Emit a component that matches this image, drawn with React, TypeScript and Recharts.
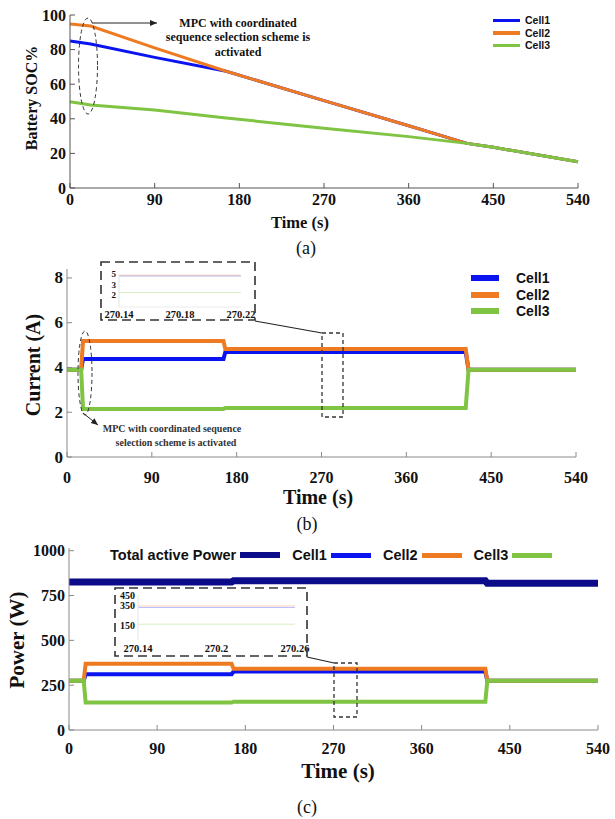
import React from 'react';
import { LineChart, Line, XAxis, YAxis, Legend } from 'recharts';

const SERIF = '"Liberation Serif", "Times New Roman", serif';
const SANS = '"Liberation Sans", Arial, sans-serif';

const BLUE = '#0a14f0';
const ORANGE = '#ee7b22';
const GREEN = '#7fc443';
const NAVY = '#0c0c8a';

// shared x axis
const timeTicks = [0, 90, 180, 270, 360, 450, 540];

// (a) battery SOC %
const socTime = [0, 22, 90, 166, 270, 360, 422, 450, 540];
const socCell1 = [85, 83.2, 75.5, 67.5, 50.5, 36, 25.8, 23.5, 15.2];
const socCell2 = [94.8, 93.6, 81, 67.5, 50.5, 36, 25.8, 23.5, 15.2];
const socCell3 = [49.9, 48, 45.1, 40.5, 34.5, 29.7, 25.8, 23.5, 15.2];
const socTicks = [0, 20, 40, 60, 80, 100];

// (b) current (A)
const currentTime = [0, 15, 17, 166, 168, 423, 426, 540];
const currentCell1 = [3.9, 3.9, 4.38, 4.38, 4.69, 4.69, 3.9, 3.9];
const currentCell2 = [3.9, 3.9, 5.18, 5.18, 4.82, 4.82, 3.9, 3.9];
const currentCell3 = [3.9, 3.9, 2.15, 2.15, 2.19, 2.19, 3.9, 3.9];
const currentTicks = [0, 2, 4, 6, 8];

// (b) zoomed inset
const zoomCurrentTime = [270.14, 270.22];
const zoomCurrentCell1 = [4.69, 4.69];
const zoomCurrentCell2 = [4.82, 4.82];
const zoomCurrentCell3 = [2.19, 2.19];
const zoomCurrentTicksX = [270.14, 270.18, 270.22];
const zoomCurrentTicksY = [2, 3, 5];

// (c) power (W)
const powerTime = [0, 15, 17, 166, 168, 425, 427, 540];
const powerTotal = [825, 825, 825, 825, 832, 832, 818, 818];
const powerCell1 = [274, 274, 311, 311, 326, 326, 274, 274];
const powerCell2 = [274, 274, 369, 369, 341, 341, 274, 274];
const powerCell3 = [274, 274, 153, 153, 158, 158, 274, 274];
const powerTicks = [0, 250, 500, 750, 1000];
const powerLegendOrder = ['tot', 'c1', 'c2', 'c3'];

// (c) zoomed inset
const zoomPowerTime = [270.14, 270.26];
const zoomPowerCell1 = [326, 326];
const zoomPowerCell2 = [341, 341];
const zoomPowerCell3 = [158, 158];
const zoomPowerTicksX = [270.14, 270.2, 270.26];
const zoomPowerTicksY = [150, 350, 450];

const rows = (time: number[], series: Record<string, number[]>) =>
  time.map((t, i) => {
    const r: any = { t };
    Object.keys(series).forEach((k) => (r[k] = series[k][i]));
    return r;
  });

const socData = rows(socTime, { c1: socCell1, c2: socCell2, c3: socCell3 });
const currentData = rows(currentTime, { c1: currentCell1, c2: currentCell2, c3: currentCell3 });
const zoomCurrentData = rows(zoomCurrentTime, { c1: zoomCurrentCell1, c2: zoomCurrentCell2, c3: zoomCurrentCell3 });
const powerData = rows(powerTime, { tot: powerTotal, c1: powerCell1, c2: powerCell2, c3: powerCell3 });
const zoomPowerData = rows(zoomPowerTime, { c1: zoomPowerCell1, c2: zoomPowerCell2, c3: zoomPowerCell3 });

// ticks drawn inward, label outside
const XTick = ({ x, y, payload, fs, dy, stroke, mark = 5 }: any) => (
  <g>
    {mark > 0 && <line x1={x} x2={x} y1={y} y2={y - mark} stroke={stroke} />}
    <text x={x} y={y + dy} textAnchor="middle" dominantBaseline="central"
      fontFamily={SERIF} fontWeight="bold" fontSize={fs} fill="#111">{payload.value}</text>
  </g>
);

const YTick = ({ x, y, payload, fs, gap, stroke, mark = 5, nudge }: any) => (
  <g>
    {mark > 0 && <line x1={x} x2={x + mark} y1={y} y2={y} stroke={stroke} />}
    <text x={x - gap} y={y + (nudge ? nudge[payload.value] || 0 : 0)} textAnchor="end" dominantBaseline="central"
      fontFamily={SERIF} fontWeight="bold" fontSize={fs} fill="#111">{payload.value}</text>
  </g>
);

const StackLegend = ({ payload, swatch, thick, fs, rowH, gap }: any) => (
  <div>
    {(payload || []).map((p: any) => (
      <div key={p.value} style={{ display: 'flex', alignItems: 'center', height: rowH }}>
        <span style={{ width: swatch, height: thick, background: p.color, marginRight: gap, display: 'inline-block' }} />
        <span style={{ fontFamily: SANS, fontWeight: 'bold', fontSize: fs, color: '#111' }}>{p.value}</span>
      </div>
    ))}
  </div>
);

const RowLegend = ({ payload }: any) => (
  <div style={{ display: 'flex', alignItems: 'center', height: 16 }}>
    {(payload || []).map((p: any, i: number) => (
      <div key={p.value} style={{ display: 'flex', alignItems: 'center', marginRight: 12 }}>
        <span style={{ fontFamily: SANS, fontWeight: 'bold', fontSize: 14.5, color: '#111', marginRight: 4 }}>{p.value}</span>
        <span style={{ width: 40, height: i === 0 ? 6 : 5, background: p.color, display: 'inline-block' }} />
      </div>
    ))}
  </div>
);

export default function App() {
  const gray = '#8a8a8a';
  const dark = '#555';
  const dash = { fill: 'none', stroke: '#333', strokeWidth: 1.6, strokeDasharray: '9 5' };
  const dashSmall = { fill: 'none', stroke: '#333', strokeWidth: 1.3, strokeDasharray: '4 3' };
  const title = { fontFamily: SERIF, fontWeight: 'bold' as const, fill: '#111' };
  const caption = { fontFamily: SERIF, fontSize: 18, fill: '#111', textAnchor: 'middle' as const };

  return (
    <div style={{ position: 'absolute', left: 0, top: 0, width: 615, height: 819, background: '#fff', overflow: 'hidden' }}>
      {/* (a) */}
      <div style={{ position: 'absolute', left: 0, top: 0 }}>
        <LineChart width={615} height={260} data={socData} margin={{ top: 15, right: 37, bottom: 0, left: 0 }}>
          <XAxis dataKey="t" type="number" domain={[0, 540]} ticks={timeTicks} interval={0} height={72}
            tickSize={0} tickMargin={0} tickLine={false} axisLine={{ stroke: dark }}
            tick={<XTick fs={16} dy={11} stroke={dark} />} />
          <YAxis type="number" domain={[0, 100]} ticks={socTicks} interval={0} width={70}
            tickSize={0} tickMargin={0} tickLine={false} axisLine={{ stroke: dark }}
            tick={<YTick fs={16} gap={4} stroke={dark} />} />
          <Legend layout="horizontal" verticalAlign="middle" align="center"
            itemSorter={(p: any) => ['c1', 'c2', 'c3'].indexOf(p.dataKey)}
            wrapperStyle={{ left: 493, top: 14, width: 'auto', height: 'auto' }}
            content={<StackLegend swatch={27} thick={3.5} fs={10.5} rowH={12.5} gap={5} />} />
          <Line name="Cell1" dataKey="c1" type="linear" stroke={BLUE} strokeWidth={3} dot={false} isAnimationActive={false} />
          <Line name="Cell2" dataKey="c2" type="linear" stroke={ORANGE} strokeWidth={3} dot={false} isAnimationActive={false} />
          <Line name="Cell3" dataKey="c3" type="linear" stroke={GREEN} strokeWidth={3} dot={false} isAnimationActive={false} />
        </LineChart>
      </div>

      {/* (b) */}
      <div style={{ position: 'absolute', left: 0, top: 255 }}>
        <LineChart width={615} height={280} data={currentData} margin={{ top: 14, right: 39, bottom: 0, left: 0 }}>
          <XAxis dataKey="t" type="number" domain={[0, 540]} ticks={timeTicks} interval={0} height={78}
            tickSize={0} tickMargin={0} tickLine={false} axisLine={{ stroke: gray }}
            tick={<XTick fs={16} dy={20} stroke={gray} />} />
          <YAxis type="number" domain={[0, 8.4]} ticks={currentTicks} interval={0} width={67}
            tickSize={0} tickMargin={0} tickLine={false} axisLine={{ stroke: gray }}
            tick={<YTick fs={17} gap={4} stroke={gray} />} />
          <Legend layout="horizontal" verticalAlign="middle" align="center"
            itemSorter={(p: any) => ['c1', 'c2', 'c3'].indexOf(p.dataKey)}
            wrapperStyle={{ left: 471, top: 15, width: 'auto', height: 'auto' }}
            content={<StackLegend swatch={28} thick={6} fs={14} rowH={16.5} gap={17} />} />
          <Line name="Cell1" dataKey="c1" type="linear" stroke={BLUE} strokeWidth={4} dot={false} isAnimationActive={false} />
          <Line name="Cell2" dataKey="c2" type="linear" stroke={ORANGE} strokeWidth={4} dot={false} isAnimationActive={false} />
          <Line name="Cell3" dataKey="c3" type="linear" stroke={GREEN} strokeWidth={4} dot={false} isAnimationActive={false} />
        </LineChart>
      </div>

      {/* (b) inset */}
      <div style={{ position: 'absolute', left: 101, top: 262 }}>
        <LineChart width={160} height={58} data={zoomCurrentData} margin={{ top: 12, right: 20, bottom: 0, left: 0 }}>
          <XAxis dataKey="t" type="number" domain={[270.14, 270.22]} ticks={zoomCurrentTicksX} interval={0} height={13}
            tickSize={0} tickMargin={0} tickLine={false} axisLine={{ stroke: '#ececec' }}
            tick={<XTick fs={10.5} dy={7} mark={0} />} />
          <YAxis type="number" domain={[0, 5]} ticks={zoomCurrentTicksY} interval={0} width={18}
            tickSize={0} tickMargin={0} tickLine={false} axisLine={{ stroke: '#e4e4e4' }}
            tick={<YTick fs={9} gap={3} mark={0} nudge={{ 3: -2, 2: 1 }} />} />
          <Line dataKey="c1" type="linear" stroke={BLUE} strokeOpacity={0.3} strokeWidth={1} dot={false} isAnimationActive={false} />
          <Line dataKey="c2" type="linear" stroke={ORANGE} strokeOpacity={0.3} strokeWidth={1} dot={false} isAnimationActive={false} />
          <Line dataKey="c3" type="linear" stroke={GREEN} strokeOpacity={0.3} strokeWidth={1} dot={false} isAnimationActive={false} />
        </LineChart>
      </div>

      {/* (c) */}
      <div style={{ position: 'absolute', left: 0, top: 530 }}>
        <LineChart width={615} height={289} data={powerData} margin={{ top: 18, right: 17, bottom: 0, left: 0 }}>
          <XAxis dataKey="t" type="number" domain={[0, 540]} ticks={timeTicks} interval={0} height={89}
            tickSize={0} tickMargin={0} tickLine={false} axisLine={{ stroke: gray }}
            tick={<XTick fs={16} dy={18} stroke={gray} />} />
          <YAxis type="number" domain={[0, 1015]} ticks={powerTicks} interval={0} width={69}
            tickSize={0} tickMargin={0} tickLine={false} axisLine={{ stroke: gray }}
            tick={<YTick fs={16} gap={4} stroke={gray} />} />
          <Legend layout="horizontal" verticalAlign="middle" align="center"
            itemSorter={(p: any) => powerLegendOrder.indexOf(p.dataKey)}
            wrapperStyle={{ left: 110, top: 17, width: 'auto', height: 'auto' }}
            content={<RowLegend />} />
          <Line name="Total active Power" dataKey="tot" type="linear" stroke={NAVY} strokeWidth={7} dot={false} isAnimationActive={false} />
          <Line name="Cell1" dataKey="c1" type="linear" stroke={BLUE} strokeWidth={4} dot={false} isAnimationActive={false} />
          <Line name="Cell2" dataKey="c2" type="linear" stroke={ORANGE} strokeWidth={4} dot={false} isAnimationActive={false} />
          <Line name="Cell3" dataKey="c3" type="linear" stroke={GREEN} strokeWidth={4} dot={false} isAnimationActive={false} />
        </LineChart>
      </div>

      {/* (c) inset */}
      <div style={{ position: 'absolute', left: 115, top: 588 }}>
        <LineChart width={205} height={68} data={zoomPowerData} margin={{ top: 7, right: 25, bottom: 0, left: 0 }}>
          <XAxis dataKey="t" type="number" domain={[270.14, 270.26]} ticks={zoomPowerTicksX} interval={0} height={16}
            tickSize={0} tickMargin={0} tickLine={false} axisLine={false}
            tick={<XTick fs={10.5} dy={8} mark={0} />} />
          <YAxis type="number" domain={[0, 450]} ticks={zoomPowerTicksY} interval={0} width={23}
            tickSize={0} tickMargin={0} tickLine={false} axisLine={{ stroke: '#e4e4e4' }}
            tick={<YTick fs={10} gap={3} mark={0} />} />
          <Line dataKey="c1" type="linear" stroke={BLUE} strokeOpacity={0.3} strokeWidth={1} dot={false} isAnimationActive={false} />
          <Line dataKey="c2" type="linear" stroke={ORANGE} strokeOpacity={0.3} strokeWidth={1} dot={false} isAnimationActive={false} />
          <Line dataKey="c3" type="linear" stroke={GREEN} strokeOpacity={0.3} strokeWidth={1} dot={false} isAnimationActive={false} />
        </LineChart>
      </div>

      {/* annotations, titles, captions */}
      <svg width={615} height={819} style={{ position: 'absolute', left: 0, top: 0, pointerEvents: 'none' }}>
        <defs>
          <marker id="ah" markerWidth="8" markerHeight="8" refX="7" refY="4" orient="auto" markerUnits="userSpaceOnUse">
            <path d="M0,1 L7,4 L0,7 Z" fill="#222" />
          </marker>
        </defs>

        {/* (a) */}
        <ellipse cx={88} cy={66} rx={9.5} ry={48} fill="none" stroke="#333" strokeWidth={1} strokeDasharray="4 3" />
        <line x1={92} y1={23} x2={157} y2={23} stroke="#222" strokeWidth={1} markerEnd="url(#ah)" />
        <g fontFamily={SERIF} fontWeight="bold" fontSize={12} fill="#111" textAnchor="middle">
          <text x={238} y={23} dominantBaseline="central">MPC with coordinated</text>
          <text x={238} y={37} dominantBaseline="central">sequence selection scheme is</text>
          <text x={238} y={52} dominantBaseline="central">activated</text>
        </g>
        <text {...title} fontSize={16} textAnchor="middle" dominantBaseline="central" transform="translate(31,98) rotate(-90)">Battery SOC%</text>
        <text {...title} fontSize={16.5} x={300} y={222} textAnchor="middle" dominantBaseline="central">Time (s)</text>
        <text {...caption} x={306} y={248} dominantBaseline="central">(a)</text>

        {/* (b) */}
        <rect x={101} y={262} width={154} height={58} {...dash} />
        <line x1={255} y1={321} x2={322} y2={333} stroke="#222" strokeWidth={1.2} />
        <rect x={322} y={333} width={21} height={84} {...dashSmall} />
        <ellipse cx={85} cy={373} rx={7} ry={42} fill="none" stroke="#333" strokeWidth={1} strokeDasharray="4 3" />
        <line x1={83} y1={413} x2={98} y2={425} stroke="#222" strokeWidth={1} markerEnd="url(#ah)" />
        <g fontFamily={SERIF} fontWeight="bold" fontSize={10} fill="#333" textAnchor="middle">
          <text x={172} y={428} dominantBaseline="central">MPC with coordinated sequence</text>
          <text x={176} y={442} dominantBaseline="central">selection scheme is activated</text>
        </g>
        <text {...title} fontSize={20} textAnchor="middle" dominantBaseline="central" transform="translate(33,365) rotate(-90)">Current (A)</text>
        <text {...title} fontSize={20} x={318} y={497} textAnchor="middle" dominantBaseline="central">Time (s)</text>
        <text {...caption} x={307} y={524} dominantBaseline="central">(b)</text>

        {/* (c) */}
        <rect x={115} y={588} width={192} height={68} {...dash} />
        <line x1={307} y1={657} x2={334} y2={663} stroke="#222" strokeWidth={1.2} />
        <rect x={334} y={663} width={23} height={54} {...dashSmall} />
        <text {...title} fontSize={21} textAnchor="middle" dominantBaseline="central" transform="translate(17,640) rotate(-90)">Power (W)</text>
        <text {...title} fontSize={21} x={338} y={771} textAnchor="middle" dominantBaseline="central">Time (s)</text>
        <text {...caption} x={307} y={807} dominantBaseline="central">(c)</text>
      </svg>
    </div>
  );
}
